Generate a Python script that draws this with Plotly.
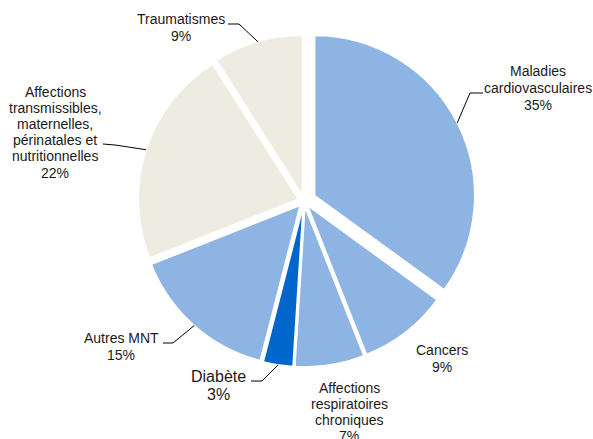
import math
import plotly.graph_objects as go

# ---- data ----
categories = ["Maladies cardiovasculaires", "Cancers", "Affections respiratoires chroniques",
              "Diabète", "Autres MNT", "Affections transmissibles, maternelles, périnatales et nutritionnelles",
              "Traumatismes"]
values = [35, 9, 7, 3, 15, 22, 9]
label_lines = [
    ["Maladies", "cardiovasculaires", "35%"],
    ["Cancers", "9%"],
    ["Affections", "respiratoires", "chroniques", "7%"],
    ["Diabète", "3%"],
    ["Autres MNT", "15%"],
    ["Affections", "transmissibles,", "maternelles,", "périnatales et", "nutritionnelles", "22%"],
    ["Traumatismes", "9%"],
]

# ---- styles / layout ----
W, H = 593, 439
colors = ["#8EB4E3", "#8EB4E3", "#8EB4E3", "#0066CC", "#8EB4E3", "#EEECE1", "#EEECE1"]
pulls = [0.075, 0.0375, 0.0375, 0.0375, 0.0375, 0.0375, 0.0375]
CX, CY, D = 304, 201, 344  # pie domain center / size in px
dom_x = [(CX - D / 2) / W, (CX + D / 2) / W]
dom_y = [1 - (CY + D / 2) / H, 1 - (CY - D / 2) / H]

# label text placement (px): center x, first line y, line spacing, font size
label_pos = [
    (538, 71, 17, 14),
    (442, 350, 17, 14),
    (349, 388, 16, 14),
    (218, 376, 18, 16),
    (121, 338, 17, 14),
    (55, 92, 16.1, 14),
    (181, 19, 17, 14),
]
# leader lines: (elbow px, end px) or None
leaders = [
    ((470, 93), (483, 93)),
    None,
    None,
    ((262, 381), (251, 381)),
    ((173, 343), (163, 343)),
    ((115, 145), (103, 144)),
    ((239, 24), (228, 24)),
]


def px(x, y):
    return x / W, 1 - y / H


fig = go.Figure(go.Pie(
    labels=categories, values=values, sort=False, direction="clockwise", rotation=0,
    marker=dict(colors=colors, line=dict(color="white", width=1.5)),
    pull=pulls, textinfo="none", hoverinfo="label+percent",
    domain=dict(x=dom_x, y=dom_y), showlegend=False,
))

R = D / 2 / (1 + max(pulls))
total = sum(values)
annotations = []
shapes = []
cum = 0
for i, v in enumerate(values):
    mid = (cum + v / 2) / total * 2 * math.pi
    cum += v
    dx, dy = math.sin(mid), -math.cos(mid)
    ax = CX + dx * pulls[i] * R
    ay = CY + dy * pulls[i] * R
    sx, sy = ax + dx * R, ay + dy * R
    x, y0, sp, fs = label_pos[i]
    for k, line in enumerate(label_lines[i]):
        xx, yy = px(x, y0 + k * sp)
        annotations.append(dict(
            x=xx, y=yy, xref="paper", yref="paper",
            text=line, showarrow=False, xanchor="center", yanchor="middle",
            font=dict(family="Liberation Sans, Arial", size=fs, color="#1a1a1a"),
        ))
    if leaders[i]:
        (ex, ey), (tx, ty) = leaders[i]
        p1, p2, p3 = px(sx, sy), px(ex, ey), px(tx, ty)
        path = "M {} {} L {} {} L {} {}".format(*p1, *p2, *p3)
        shapes.append(dict(type="path", path=path, xref="paper", yref="paper",
                           line=dict(color="black", width=1)))

fig.update_layout(
    width=W, height=H, autosize=False,
    margin=dict(l=0, r=0, t=0, b=0),
    paper_bgcolor="white", plot_bgcolor="white",
    annotations=annotations, shapes=shapes,
)
fig.write_html(
    "out.html",
    config={"displayModeBar": False},
    post_script="document.body.style.margin='0';document.body.style.overflow='hidden';",
)
